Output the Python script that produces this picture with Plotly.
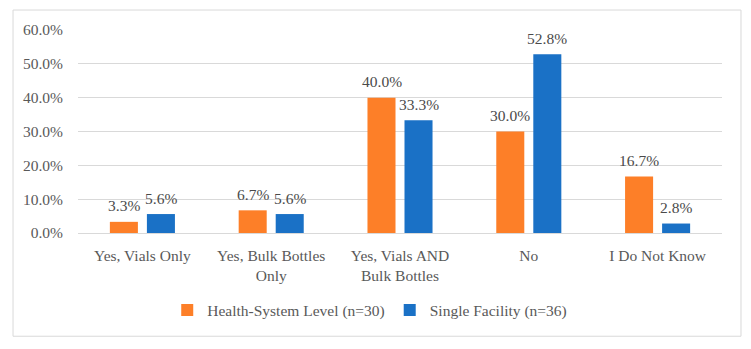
import plotly.graph_objects as go

categories = ["Yes, Vials Only", "Yes, Bulk Bottles<br>Only", "Yes, Vials AND<br>Bulk Bottles", "No", "I Do Not Know"]
health_system = [0.033, 0.067, 0.400, 0.300, 0.167]
single_facility = [0.056, 0.056, 0.333, 0.528, 0.028]
series_names = ["Health-System Level (n=30)", "Single Facility (n=36)"]
y_ticks = [0.0, 0.1, 0.2, 0.3, 0.4, 0.5, 0.6]
y_tick_labels = ["0.0%", "10.0%", "20.0%", "30.0%", "40.0%", "50.0%", "60.0%"]

ORANGE = "#FD7F28"
BLUE = "#1A71C6"
FONT = "Liberation Serif"
GRAY = "#595959"
FS = 15.5

fig = go.Figure()
fig.add_trace(go.Bar(x=categories, y=health_system, name=series_names[0],
                     marker=dict(color=ORANGE, line=dict(width=0))))
fig.add_trace(go.Bar(x=categories, y=single_facility, name=series_names[1],
                     marker=dict(color=BLUE, line=dict(width=0))))

annotations = []
for vals, shift in ((health_system, -18.5), (single_facility, 18.5)):
    for c, v in zip(categories, vals):
        annotations.append(dict(x=c, y=v, xref="x", yref="y", text=f"{v*100:.1f}%",
                                showarrow=False, xshift=shift, yshift=16,
                                font=dict(family=FONT, size=FS, color="#4A4A4A")))

fig.update_layout(
    width=743, height=341,
    margin=dict(l=70, r=29, t=22, b=115.5),
    paper_bgcolor="white", plot_bgcolor="white",
    barmode="group", bargap=0.425, bargroupgap=0.243,
    font=dict(family=FONT, size=FS, color=GRAY),
    showlegend=True,
    legend=dict(orientation="h", x=0.453, xanchor="center", y=-0.381, yanchor="middle",
                font=dict(family=FONT, size=FS, color=GRAY), itemwidth=30,
                bgcolor="rgba(0,0,0,0)"),
    annotations=annotations,
    shapes=[dict(type="rect", xref="paper", yref="paper",
                 x0=-0.1009, x1=1.0295, y0=-0.5086, y1=1.0983,
                 line=dict(color="#D9D9D9", width=1), fillcolor="rgba(0,0,0,0)", layer="below")],
    xaxis=dict(showgrid=False, showline=False, ticks="", tickfont=dict(family=FONT, size=FS, color=GRAY),
               ticklabelstandoff=11),
    yaxis=dict(range=[0, 0.6], tickvals=y_ticks, ticktext=y_tick_labels,
               showgrid=True, gridcolor="#D9D9D9", gridwidth=1,
               zeroline=True, zerolinecolor="#D9D9D9", zerolinewidth=1,
               showline=False, ticks="", ticklabelstandoff=14,
               tickfont=dict(family=FONT, size=FS, color=GRAY)),
)

fig.write_html("out.html")
